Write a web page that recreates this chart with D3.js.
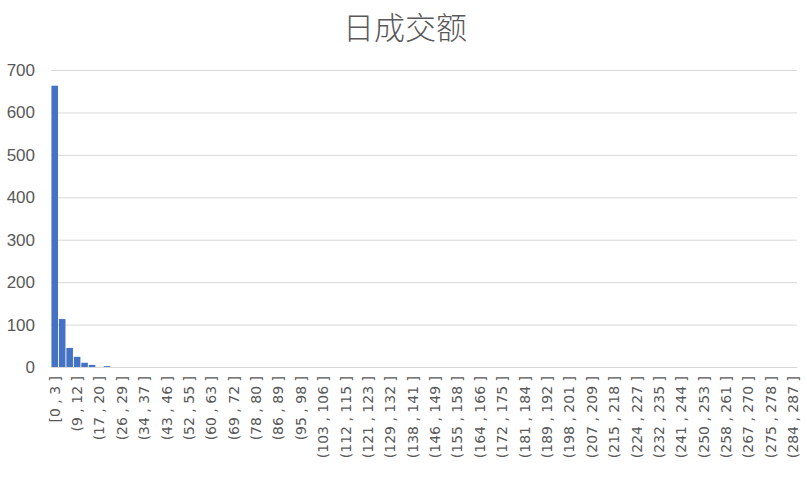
<!DOCTYPE html>
<html>
<head>
<meta charset="utf-8">
<script src="https://cdn.jsdelivr.net/npm/d3@7"></script>
<style>
  body { margin: 0; background: #fff; }
  svg { display: block; }
</style>
</head>
<body>
<div id="chart"></div>
<script>
// histogram counts, one per bin (100 bins)
const counts = [
  663, 113, 45, 24, 10, 5, 0, 2, 0, 0,
  0, 0, 0, 0, 0, 0, 0, 0, 0, 0,
  0, 0, 0, 0, 0, 0, 0, 0, 0, 0,
  0, 0, 0, 0, 0, 0, 0, 0, 0, 0,
  0, 0, 0, 0, 0, 0, 0, 0, 0, 0,
  0, 0, 0, 0, 0, 0, 0, 0, 0, 0,
  0, 0, 0, 0, 0, 0, 0, 0, 0, 0,
  0, 0, 0, 0, 0, 0, 0, 0, 0, 0,
  0, 0, 0, 0, 0, 0, 0, 0, 0, 0,
  0, 0, 0, 0, 0, 0, 0, 0, 0, 0
];

// labels shown on the axis (every third bin)
const binLabels = [
  "[0 , 3 ]", "(9 , 12 ]", "(17 , 20 ]", "(26 , 29 ]", "(34 , 37 ]",
  "(43 , 46 ]", "(52 , 55 ]", "(60 , 63 ]", "(69 , 72 ]", "(78 , 80 ]",
  "(86 , 89 ]", "(95 , 98 ]", "(103 , 106 ]", "(112 , 115 ]", "(121 , 123 ]",
  "(129 , 132 ]", "(138 , 141 ]", "(146 , 149 ]", "(155 , 158 ]", "(164 , 166 ]",
  "(172 , 175 ]", "(181 , 184 ]", "(189 , 192 ]", "(198 , 201 ]", "(207 , 209 ]",
  "(215 , 218 ]", "(224 , 227 ]", "(232 , 235 ]", "(241 , 244 ]", "(250 , 253 ]",
  "(258 , 261 ]", "(267 , 270 ]", "(275 , 278 ]", "(284 , 287 ]"
];
const labelStep = 3;

const yTicks = [0, 100, 200, 300, 400, 500, 600, 700];
const title = "日成交额";

const width = 807, height = 485;
const margin = { top: 70, right: 10, bottom: 118, left: 51 };
const innerW = width - margin.left - margin.right;
const innerH = height - margin.top - margin.bottom;

const svg = d3.select("#chart")
  .append("svg")
  .attr("width", width)
  .attr("height", height);

svg.append("text")
  .attr("x", 405)
  .attr("y", 39)
  .attr("text-anchor", "middle")
  .style("font-family", "'Noto Sans CJK SC', sans-serif")
  .style("font-weight", 300)
  .style("font-size", "31px")
  .style("fill", "#595959")
  .text(title);

const g = svg.append("g")
  .attr("transform", `translate(${margin.left},${margin.top})`);

const x = d3.scaleBand()
  .domain(d3.range(counts.length))
  .range([0, innerW])
  .paddingInner(0.12)
  .paddingOuter(0.06);

const y = d3.scaleLinear()
  .domain([0, 700])
  .range([innerH, 0]);

// gridlines
g.append("g")
  .selectAll("line")
  .data(yTicks)
  .join("line")
    .attr("x1", 0)
    .attr("x2", innerW)
    .attr("y1", d => y(d) + 0.5)
    .attr("y2", d => y(d) + 0.5)
    .attr("stroke", "#d9d9d9")
    .attr("stroke-width", 1);

// y axis labels
const yAxis = d3.axisLeft(y).tickValues(yTicks).tickSize(0).tickPadding(16);
g.append("g")
  .call(yAxis)
  .call(a => a.select(".domain").remove())
  .selectAll("text")
    .style("font-family", "'Liberation Sans', Arial, sans-serif")
    .style("font-size", "17px")
    .style("fill", "#595959");

// bars
g.append("g")
  .selectAll("rect")
  .data(counts)
  .join("rect")
    .attr("x", (d, i) => x(i))
    .attr("y", d => y(d))
    .attr("width", x.bandwidth())
    .attr("height", d => innerH - y(d))
    .attr("fill", "#4472c4");

// x axis
const shown = d3.range(0, counts.length, labelStep);
const xAxis = d3.axisBottom(x)
  .tickValues(shown)
  .tickFormat(d => binLabels[d / labelStep])
  .tickSize(0)
  .tickPadding(0);

g.append("g")
  .attr("transform", `translate(0,${innerH})`)
  .call(xAxis)
  .call(a => a.select(".domain").attr("stroke", "#d9d9d9"))
  .selectAll("text")
    .attr("transform", "rotate(-90)")
    .attr("x", -9)
    .attr("y", 0)
    .attr("dy", "0.35em")
    .style("text-anchor", "end")
    .style("font-family", "'DejaVu Sans', sans-serif")
    .style("font-size", "14px")
    .style("fill", "#595959");
</script>
</body>
</html>
